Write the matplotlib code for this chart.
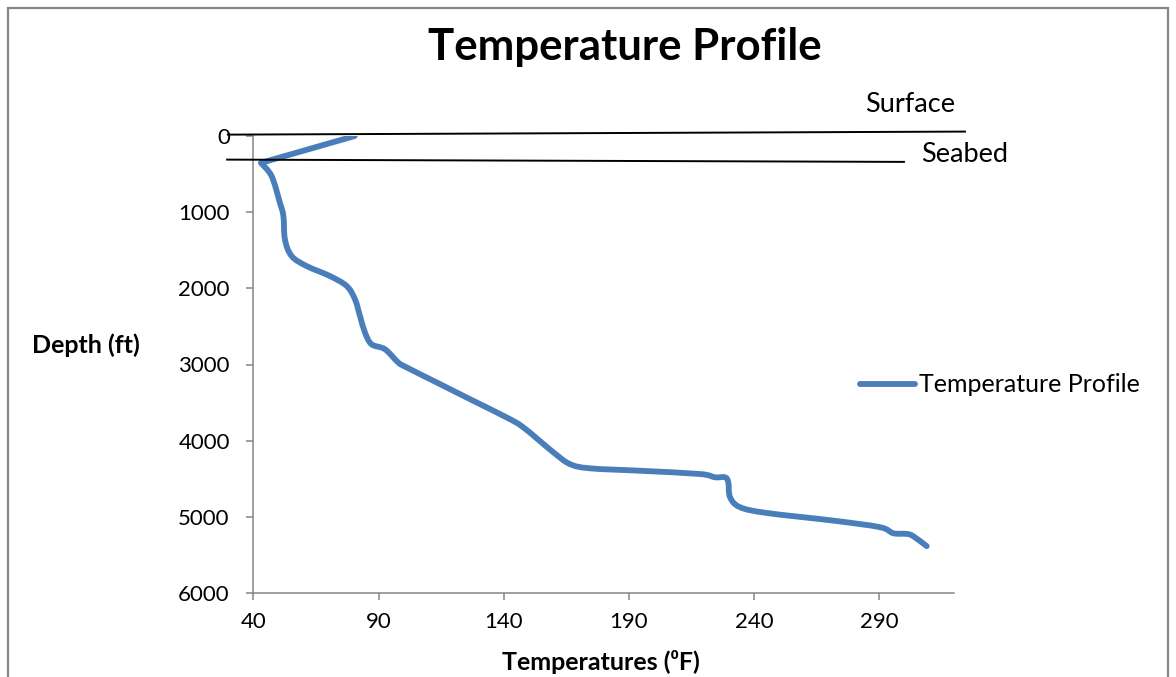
import matplotlib
matplotlib.use("Agg")
import matplotlib.pyplot as plt
from matplotlib.patches import Rectangle, PathPatch
from matplotlib.path import Path
from matplotlib.lines import Line2D
from matplotlib import font_manager

# Temperature (F) vs depth (ft)
temps = [80.5, 43.0, 47.3, 50.6, 52.0, 52.6, 55.3, 61.3, 70.6, 77.3, 80.6,
         82.6, 84.6, 87.2, 92.6, 97.9, 101.3, 114.6, 127.9, 141.2, 147.9,
         159.9, 166.5, 174.5, 194.5, 218.5, 224.5, 228.5, 229.8, 230.5,
         234.5, 245.1, 271.8, 290.4, 295.7, 301.1, 303.7, 309.1]
depths = [0, 353, 528, 877, 1052, 1358, 1577, 1708, 1839, 1970, 2144,
          2363, 2581, 2734, 2800, 2974, 3039, 3258, 3477, 3695, 3826,
          4153, 4307, 4363, 4395, 4438, 4481, 4481, 4547, 4743,
          4874, 4949, 5050, 5136, 5215, 5224, 5254, 5385]

# reference lines for sea surface and seabed
surface_x = [29.8, 324.4]
surface_y = [-18, -58]
seabed_x = [29.5, 300.0]
seabed_y = [310, 340]

x_ticks = [40, 90, 140, 190, 240, 290]
y_ticks = [0, 1000, 2000, 3000, 4000, 5000, 6000]

names = {f.name for f in font_manager.fontManager.ttflist}
base = "Lato" if "Lato" in names else "DejaVu Sans"
plt.rcParams["font.family"] = [base, "DejaVu Sans"]


def smooth_path(xs, ys, t=1 / 6, sharp=(1,)):
    # Excel-style smoothed line: cubic bezier segments through every point,
    # points listed in `sharp` are kept as corners
    verts = [(xs[0], ys[0])]
    codes = [Path.MOVETO]
    n = len(xs)
    for i in range(n - 1):
        x1, y1 = xs[i], ys[i]
        x2, y2 = xs[i + 1], ys[i + 1]
        if i > 0 and i not in sharp:
            x0, y0 = xs[i - 1], ys[i - 1]
        else:
            x0, y0 = x1, y1
        if i + 2 < n and (i + 1) not in sharp:
            x3, y3 = xs[i + 2], ys[i + 2]
        else:
            x3, y3 = x2, y2
        c1 = (x1 + (x2 - x0) * t, y1 + (y2 - y0) * t)
        c2 = (x2 - (x3 - x1) * t, y2 - (y3 - y1) * t)
        verts += [c1, c2, (x2, y2)]
        codes += [Path.CURVE4] * 3
    return Path(verts, codes)


W, H = 1176, 677
fig = plt.figure(figsize=(W / 100, H / 100), dpi=100)
ax = fig.add_axes([253.4 / W, 1 - 593 / H, (954 - 253.4) / W, (593 - 136) / H])

blue = "#4A7EBB"
grey = "#868686"
lw = 4.2

ax.add_patch(PathPatch(smooth_path(temps, depths), fill=False, edgecolor=blue,
                       lw=lw, joinstyle="round", capstyle="round", zorder=3))
ax.plot(surface_x, surface_y, color="black", lw=1.4, clip_on=False, zorder=4)
ax.plot(seabed_x, seabed_y, color="black", lw=1.4, clip_on=False, zorder=4)

ax.set_xlim(40, 320)
ax.set_ylim(6000, 0)
ax.set_xticks(x_ticks)
ax.set_yticks(y_ticks)
ax.tick_params(axis="both", direction="out", length=5, width=1.1,
               color=grey, labelsize=16)
ax.tick_params(axis="y", pad=12)
ax.tick_params(axis="x", pad=9)

for s in ["top", "right"]:
    ax.spines[s].set_visible(False)
for s in ["left", "bottom"]:
    ax.spines[s].set_color(grey)
    ax.spines[s].set_linewidth(1.1)

# title and axis labels
fig.text(625 / W, 1 - 60 / H, "Temperature Profile", ha="center",
         va="baseline", fontsize=31.5, fontweight="bold")
fig.text(32 / W, 1 - 345 / H, "Depth (ft)", ha="left", va="center",
         fontsize=18, fontweight="bold")
fig.text(601 / W, 1 - 662 / H, "Temperatures (\u2070F)", ha="center",
         va="center", fontsize=18, fontweight="bold")

fig.text(865 / W, 1 - 104 / H, "Surface", ha="left", va="center", fontsize=19.5)
fig.text(921 / W, 1 - 155 / H, "Seabed", ha="left", va="center", fontsize=19.5)

# legend
handle = Line2D([], [], color=blue, lw=lw, solid_capstyle="round")
ax.legend([handle], ["Temperature Profile"], loc="center left",
          bbox_to_anchor=(860 / W, 1 - 385 / H),
          bbox_transform=fig.transFigure, frameon=False, fontsize=18,
          handlelength=2.2, handletextpad=0.15, borderaxespad=0,
          borderpad=0)

# outer chart frame
fig.patches.append(Rectangle((8 / W, -0.1), (1168 - 8) / W, 1.1 - 8 / H,
                             transform=fig.transFigure, fill=False,
                             edgecolor=grey, lw=1.6))

fig.savefig("out.png", dpi=100)
